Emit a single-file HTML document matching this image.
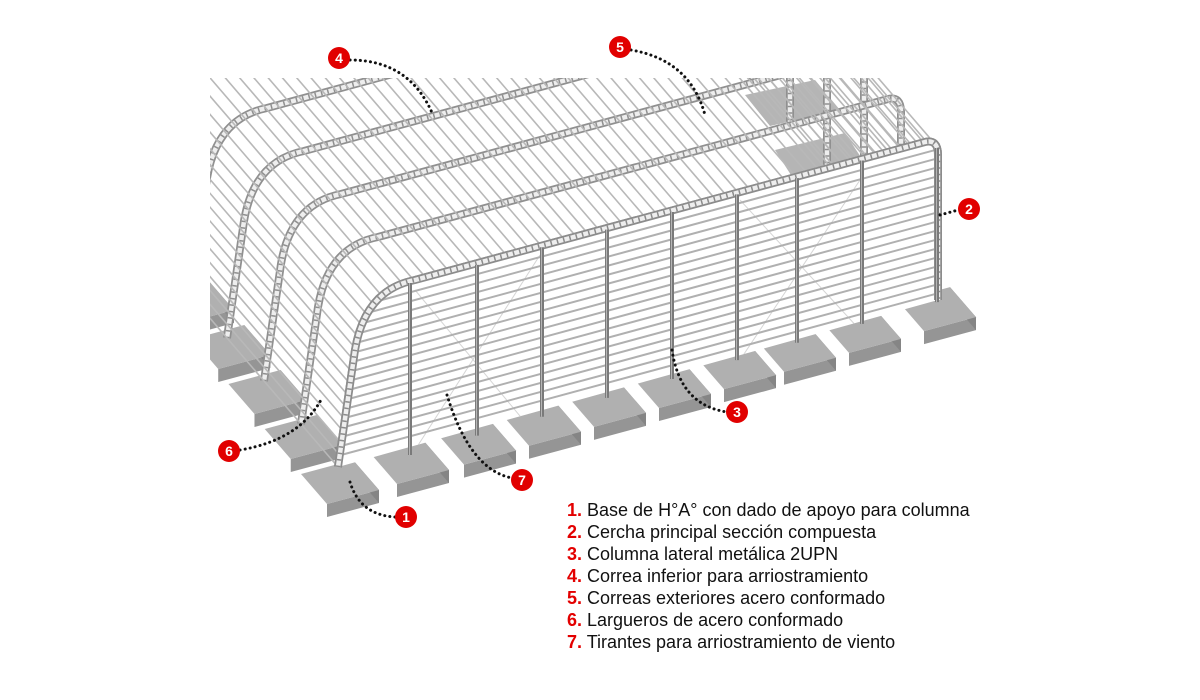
<!DOCTYPE html>
<html><head><meta charset="utf-8">
<style>
html,body{margin:0;padding:0;background:#fff;}
#wrap{position:relative;width:1200px;height:700px;overflow:hidden;background:#fff;}
svg{position:absolute;left:0;top:0;}
.lg{position:absolute;left:567px;top:499px;font-family:"Liberation Sans",Arial,sans-serif;font-size:18px;line-height:22px;color:#111;}
.lg b{color:#e30000;font-weight:bold;}
</style></head><body>
<div id="wrap">
<svg id="s" width="1200" height="700" viewBox="0 0 1200 700">
<defs>
<clipPath id="area"><rect x="210" y="78" width="800" height="620"/></clipPath>
<clipPath id="front"><path d="M338,467 L355,350 Q365,290 415,280 L925,142 Q938,139 938,155 L938,300 Z"/></clipPath>
</defs>
<g id="pads" clip-path="url(#area)"></g>
<g clip-path="url(#area)" id="struct"></g>
<g id="cols"></g>
<g id="lbl"></g>
</svg>
<div class="lg">
<div><b>1.</b> Base de H°A° con dado de apoyo para columna</div>
<div><b>2.</b> Cercha principal sección compuesta</div>
<div><b>3.</b> Columna lateral metálica 2UPN</div>
<div><b>4.</b> Correa inferior para arriostramiento</div>
<div><b>5.</b> Correas exteriores acero conformado</div>
<div><b>6.</b> Largueros de acero conformado</div>
<div><b>7.</b> Tirantes para arriostramiento de viento</div>
</div>
</div>
<script>
(function(){
var NS="http://www.w3.org/2000/svg";
function el(p,t,a){var e=document.createElementNS(NS,t);for(var k in a)e.setAttribute(k,a[k]);p.appendChild(e);return e;}
var st=document.getElementById('struct'),pads=document.getElementById('pads'),cols=document.getElementById('cols'),lbl=document.getElementById('lbl');
var W=[-37,-43];
var prof="M338,467 L355,350 Q365,290 415,280 L925,142 Q938,139 938,155 L938,300";
var tmp=el(st,'path',{d:prof,fill:'none',stroke:'none'});
var L=tmp.getTotalLength();
var g0=el(st,'g',{});
var plates=[[745,95,815,80,840,110,770,126],[775,150,845,133,868,168,798,186],[805,205,870,190,895,228,828,245],[835,258,895,243,915,280,855,292]];
plates.forEach(function(p){el(g0,'polygon',{points:p.join(','),fill:'#a3a3a3',opacity:'0.8'});});
for(var k=6;k>=0;k--){
  var tr='translate('+(W[0]*k)+','+(W[1]*k)+')';
  var g=el(st,'g',{transform:tr});
  el(g,'path',{d:prof,fill:'none',stroke:'#909090','stroke-width':8});
  el(g,'path',{d:prof,fill:'none',stroke:'#eeeeee','stroke-width':4.5});
  el(g,'path',{d:prof,fill:'none',stroke:'#909090','stroke-width':4.5,'stroke-dasharray':'1.5 5'});
}
for(var s=0;s<L;s+=12){
  var p=tmp.getPointAtLength(s);
  el(st,'line',{x1:p.x,y1:p.y,x2:p.x+W[0]*7,y2:p.y+W[1]*7,stroke:'#b8b8b8','stroke-width':1.6});
}
var fg=el(st,'g',{'clip-path':'url(#front)'});
el(fg,'rect',{x:330,y:130,width:620,height:350,fill:'#fff'});
[[415,290,540,440],[540,255,415,450],[740,200,860,330],[860,180,740,360]].forEach(function(a){el(fg,'line',{x1:a[0],y1:a[1],x2:a[2],y2:a[3],stroke:'#d5d5d5','stroke-width':1});});
for(var i=0;i<22;i++){
  var y=458-i*9;
  el(fg,'line',{x1:330,y1:y,x2:945,y2:y-0.271*615,stroke:'#b0b0b0','stroke-width':2});
}
el(st,'path',{d:prof,fill:'none',stroke:'#8c8c8c','stroke-width':8});
el(st,'path',{d:prof,fill:'none',stroke:'#eeeeee','stroke-width':4.5});
el(st,'path',{d:prof,fill:'none',stroke:'#8c8c8c','stroke-width':4.5,'stroke-dasharray':'1.5 5'});
function pad(cx,cy){
  var a=[52,-14],b=[-26,-30],h=13;
  function P(sa,sb){return [cx+a[0]*sa+b[0]*sb,cy+a[1]*sa+b[1]*sb];}
  var A=P(-.5,-.5),B=P(.5,-.5),C=P(.5,.5),D=P(-.5,.5);
  el(pads,'polygon',{points:[A,B,[B[0],B[1]+h],[A[0],A[1]+h]].join(' '),fill:'#959595'});
  el(pads,'polygon',{points:[B,C,[C[0],C[1]+h],[B[0],B[1]+h]].join(' '),fill:'#858585'});
  el(pads,'polygon',{points:[A,B,C,D].join(' '),fill:'#b0b0b0'});
}
var cxs=[410,477,542,607,672,737,797,862,937];
for(var k=5;k>=1;k--){pad(340+W[0]*k*0.98,482+(-45)*k);}
for(var j=cxs.length-1;j>=0;j--){var x=cxs[j];pad(x,462-0.29*(x-410));}
pad(340,482);
cxs.forEach(function(x){
  var top=283-0.271*(x-410);if(x>900)top=148;
  var bot=455-0.29*(x-410);
  el(cols,'line',{x1:x,y1:top,x2:x,y2:bot,stroke:'#7a7a7a','stroke-width':4});
  el(cols,'line',{x1:x-0.5,y1:top,x2:x-0.5,y2:bot,stroke:'#b5b5b5','stroke-width':1});
});
var lead=[["M350,482 Q360,515 395,517",406,517,"1"],["M940,215 L958,210",969,209,"2"],["M672,350 Q680,405 727,412",737,412,"3"],["M350,60 Q410,60 433,115",339,58,"4"],["M631,50 Q690,60 705,115",620,47,"5"],["M240,450 Q300,440 322,398",229,451,"6"],["M447,395 Q470,470 512,478",522,480,"7"]];
lead.forEach(function(l){
  el(lbl,'path',{d:l[0],fill:'none',stroke:'#111','stroke-width':3,'stroke-linecap':'round','stroke-dasharray':'0.1 5'});
  el(lbl,'circle',{cx:l[1],cy:l[2],r:11,fill:'#e10000'});
  var t=el(lbl,'text',{x:l[1],y:l[2]+5,'text-anchor':'middle','font-family':'Liberation Sans, Arial, sans-serif','font-size':14,'font-weight':'bold',fill:'#fff'});
  t.textContent=l[3];
});
})();
</script>
</body></html>
